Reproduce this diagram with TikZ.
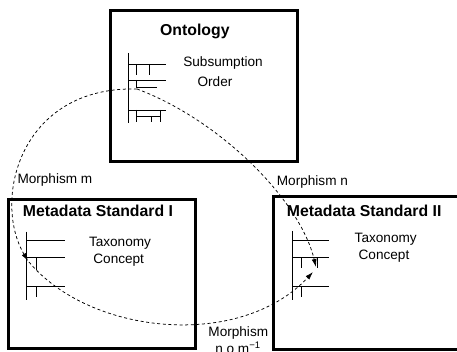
\documentclass[tikz,border=0pt]{standalone}
\usepackage{fontspec}
\setmainfont{Liberation Sans}
\usetikzlibrary{arrows.meta}
\begin{document}
\begin{tikzpicture}[x=1pt,y=-1pt,
  panel/.style={draw=black,line width=3pt,inner sep=0pt,outer sep=0pt},
  heading/.style={font=\fontsize{15.8}{18}\selectfont\bfseries,inner sep=0pt,anchor=mid west},
  txt/.style={font=\fontsize{13.6}{16}\selectfont,inner sep=0pt,anchor=mid},
  tree/.style={line width=0.9pt},
  morph/.style={line width=0.75pt,dash pattern=on 3pt off 2.6pt,
    -{Latex[length=8pt,width=5pt]}}
]
\useasboundingbox (0,0) rectangle (457,352);
\clip (0,0) rectangle (457,352);

% the three frames
\node[panel,minimum width=186.5pt,minimum height=151pt] (onto) at (203.75,86) {};
\node[panel,minimum width=186.3pt,minimum height=149.2pt] (stdI) at (101.85,273.9) {};
\node[panel,minimum width=196.5pt,minimum height=152.8pt] (stdII) at (371.75,273.1) {};

% headings
\node[heading] (ontoTitle) at (160,32.4) {Ontology};
\node[heading] (stdITitle) at (22.7,214) {Metadata Standard I};
\node[heading] (stdIITitle) at (286.7,214) {Metadata Standard II};

% inner labels
\node[txt] (subs) at (223,64) {Subsumption};
\node[txt] (order) at (215,84) {Order};
\node[txt] (taxI) at (120,244) {Taxonomy};
\node[txt] (conI) at (118.7,261) {Concept};
\node[txt] (taxII) at (385.7,240) {Taxonomy};
\node[txt] (conII) at (384,256.7) {Concept};

% morphism labels
\node[txt,anchor=mid west] (mLab) at (17.3,181) {Morphism m};
\node[txt,anchor=mid west] (nLab) at (276.7,182.7) {Morphism n};
\node[txt] (nmLab) at (238.3,334) {Morphism};
\node[txt] (nmExpr) at (238,351) {n o m\textsuperscript{−1}};

% subsumption order tree
\draw[tree] (128.3,53) -- (128.3,123);
\draw[tree] (128.3,64) -- (166,64);
\draw[tree] (128.3,80) -- (166,80);
\draw[tree] (128.3,110) -- (166,110);
\draw[tree] (136.7,64) -- (136.7,75);
\draw[tree] (149.3,64) -- (149.3,75);
\draw[tree] (136.7,80) -- (136.7,87.3) -- (157,87.3);
\draw[tree] (136.7,110) -- (136.7,122);
\draw[tree] (136.7,116.3) -- (160.7,116.3);
\draw[tree] (151.7,116.3) -- (151.7,122);
\draw[tree] (160.7,110) -- (160.7,122);

% taxonomy tree, standard I
\draw[tree] (26.7,231.7) -- (26.7,300);
\draw[tree] (26.7,240) -- (65,240);
\draw[tree] (26.7,257.7) -- (65,257.7);
\draw[tree] (26.7,286.7) -- (65,286.7);
\draw[tree] (36,257.7) -- (36,270);
\draw[tree] (36,286.7) -- (36,296.7);

% taxonomy tree, standard II
\draw[tree] (292.3,231) -- (292.3,300);
\draw[tree] (292.3,240) -- (329.3,240);
\draw[tree] (292.3,257.7) -- (329.3,257.7);
\draw[tree] (292.3,286) -- (329.3,286);
\draw[tree] (301,257.7) -- (301,268.3);
\draw[tree] (317.3,257.7) -- (317.3,268.3);
\draw[tree] (301,286) -- (301,296.7);

% concept anchors for the morphisms
\coordinate (ontoSrc) at (137,89);
\coordinate (mTip) at (28,261);
\coordinate (stdISrc) at (29,262);
\coordinate (nTip) at (316,267);
\coordinate (nmTip) at (313,272);

\draw[morph] (ontoSrc) .. controls (20,86) and (-8,200) .. (mTip);
\draw[morph] (ontoSrc) .. controls (220,120) and (300,200) .. (nTip);
\draw[morph] (stdISrc) .. controls (90,335) and (240,350) .. (nmTip);
\end{tikzpicture}
\end{document}
